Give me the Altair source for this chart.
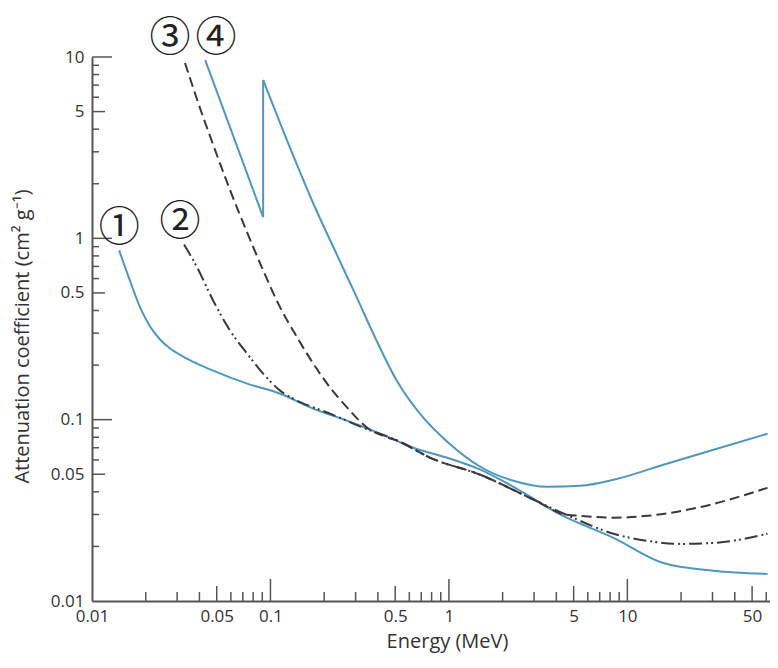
import altair as alt
import pandas as pd

# curve 1: blue, lowest at high energy
e1 = [0.0142, 0.0163, 0.0186, 0.02115, 0.02406, 0.0274, 0.0324, 0.0388, 0.0477, 0.074, 0.1133,
      0.1736, 0.2693, 0.4123, 0.6313, 0.979, 1.5, 2.515, 4.2, 8.36, 15.9, 30.4, 61]
mu1 = [0.858, 0.586, 0.416, 0.3265, 0.2767, 0.2468, 0.2229, 0.2039, 0.1865, 0.158, 0.139,
       0.115, 0.0987, 0.0837, 0.070, 0.0616, 0.053, 0.0405, 0.030, 0.0223, 0.0162, 0.0147, 0.0141]

# curve 2: dash-dot
e2 = [0.0328, 0.0388, 0.0477, 0.0594, 0.074, 0.091, 0.1133, 0.1341, 0.2162, 0.3311, 0.514,
      0.7865, 1.5, 3, 4.55, 8.36, 12.96, 19.9, 30.4, 61]
mu2 = [0.925, 0.692, 0.4545, 0.310, 0.2315, 0.1795, 0.1446, 0.1306, 0.1079, 0.0903, 0.0766,
       0.0616, 0.0497, 0.0361, 0.0299, 0.0235, 0.02145, 0.02065, 0.0209, 0.0235]

# curve 3: dashed
e3 = [0.0332, 0.0403, 0.049, 0.0594, 0.074, 0.091, 0.1133, 0.1412, 0.1736, 0.2162, 0.2693,
      0.3485, 0.4398, 0.514, 0.7865, 1.5, 3, 4.55, 5.46, 8.36, 12.96, 24.7, 61]
mu3 = [9.27, 5.227, 3.063, 1.842, 1.079, 0.666, 0.416, 0.284, 0.204, 0.150, 0.1165,
       0.0903, 0.0806, 0.0766, 0.0616, 0.0497, 0.0361, 0.0299, 0.0295, 0.0288, 0.0295, 0.0327, 0.0421]

# curve 4: blue with the absorption edge
e4a = [0.0431, 0.091]
mu4a = [9.6, 1.31]
e4edge = [0.091, 0.091]
mu4edge = [1.31, 7.47]
e4b = [0.091, 0.129, 0.1736, 0.2366, 0.3064, 0.3767, 0.5137, 0.7183, 0.979, 1.5, 2.3, 3.56,
       5.46, 8.36, 15.9, 30.4, 61]
mu4b = [7.47, 3.142, 1.561, 0.8055, 0.4662, 0.2986, 0.1622, 0.1026, 0.0756, 0.055, 0.046, 0.0426,
        0.0432, 0.0466, 0.0564, 0.0683, 0.0837]

labels = ["①", "②", "③", "④"]
label_e = [0.0142, 0.0311, 0.0274, 0.0496]
label_mu = [1.12, 1.21, 12.6, 12.6]

x_labels = [0.01, 0.05, 0.1, 0.5, 1, 5, 10, 50]
y_labels = [0.01, 0.05, 0.1, 0.5, 1, 5, 10]
x_major = [0.1, 1, 10]
x_mid = [0.05, 0.5, 5, 50]
x_minor = [0.02, 0.03, 0.04, 0.06, 0.07, 0.08, 0.09, 0.2, 0.3, 0.4, 0.6, 0.7, 0.8, 0.9,
           2, 3, 4, 6, 7, 8, 9, 20, 30, 40, 60]
y_major = [0.1, 1, 10]
y_mid = [0.05, 0.5, 5]
y_minor = [0.02, 0.03, 0.04, 0.06, 0.07, 0.08, 0.09, 0.2, 0.3, 0.4, 0.6, 0.7, 0.8, 0.9,
           2, 3, 4, 6, 7, 8, 9]

W, H = 678, 544
BLUE = "#4e97c0"
DARK = "#3a3a3a"
AXIS = "#555555"
FONT = "Open Sans"


def curve(name, seg, es, mus):
    return pd.DataFrame({"E": es, "mu": mus, "curve": name, "seg": seg, "i": range(len(es))})


blue_df = pd.concat([
    curve("1", "1", e1, mu1),
    curve("4", "4a", e4a, mu4a),
    curve("4", "4e", e4edge, mu4edge),
    curve("4", "4b", e4b, mu4b),
])
dashdot_df = curve("2", "2", e2, mu2)
dashed_df = curve("3", "3", e3, mu3)
label_df = pd.DataFrame({"E": label_e, "mu": label_mu, "t": labels})

xs = alt.Scale(type="log", domain=[0.01, 63], nice=False)
ys = alt.Scale(type="log", domain=[0.01, 10], nice=False)

x_axis = alt.Axis(
    values=x_labels, format="~g", ticks=False, tickSize=0, grid=False,
    domainColor=AXIS, domainWidth=2, labelFont=FONT, labelFontSize=17,
    labelColor="#333", labelPadding=7, labelFlush=False, labelOverlap=False,
    title="Energy (MeV)", titleFont=FONT, titleFontSize=20, titleFontWeight="normal",
    titleColor="#333", titleX=355, titleY=46, titleBaseline="alphabetic",
)
y_axis = alt.Axis(
    values=y_labels, format="~g", ticks=False, tickSize=0, grid=False,
    domainColor=AXIS, domainWidth=2, labelFont=FONT, labelFontSize=17,
    labelColor="#333", labelPadding=8, labelOverlap=False,
    title="Attenuation coefficient (cm² g⁻¹)", titleFont=FONT, titleFontSize=20,
    titleFontWeight="normal", titleColor="#333", titleX=-60, titleY=279,
    titleBaseline="bottom",
)

X = alt.X("E:Q", scale=xs, axis=x_axis)
Y = alt.Y("mu:Q", scale=ys, axis=y_axis)


def line(df, dash=None, color=BLUE):
    props = {"strokeWidth": 2, "color": color, "interpolate": "monotone"}
    if dash:
        props["strokeDash"] = dash
    return alt.Chart(df).mark_line(**props).encode(x=X, y=Y, detail="seg:N", order="i:Q")


def x_ticks(vals, length):
    return alt.Chart(pd.DataFrame({"E": vals})).mark_rule(color=AXIS, strokeWidth=1.5).encode(
        x=X, y=alt.value(H), y2=alt.value(H - length),
    )


def y_ticks(vals, length):
    return alt.Chart(pd.DataFrame({"mu": vals})).mark_rule(color=AXIS, strokeWidth=1.5).encode(
        y=Y, x=alt.value(0), x2=alt.value(length),
    )


blue = line(blue_df)
dashdot = line(dashdot_df, dash=[13, 4, 2, 3, 2, 4], color=DARK)
dashed = line(dashed_df, dash=[10, 5], color=DARK)

marks = alt.Chart(label_df).mark_text(
    font="Noto Sans CJK JP", fontSize=41, color="#222", align="center", baseline="middle"
).encode(x=X, y=Y, text="t:N")

chart = alt.layer(
    blue, dashdot, dashed,
    x_ticks(x_major, 22), x_ticks(x_mid, 15), x_ticks(x_minor, 9),
    y_ticks(y_major, 20), y_ticks(y_mid, 13), y_ticks(y_minor, 7),
    marks,
).properties(
    width=W, height=H,
    autosize=alt.AutoSizeParams(type="none"),
    padding={"left": 84, "top": 49, "right": 0, "bottom": 53},
).configure_view(stroke=None)

chart.save("out.html", embed_options={"renderer": "svg", "actions": False})
